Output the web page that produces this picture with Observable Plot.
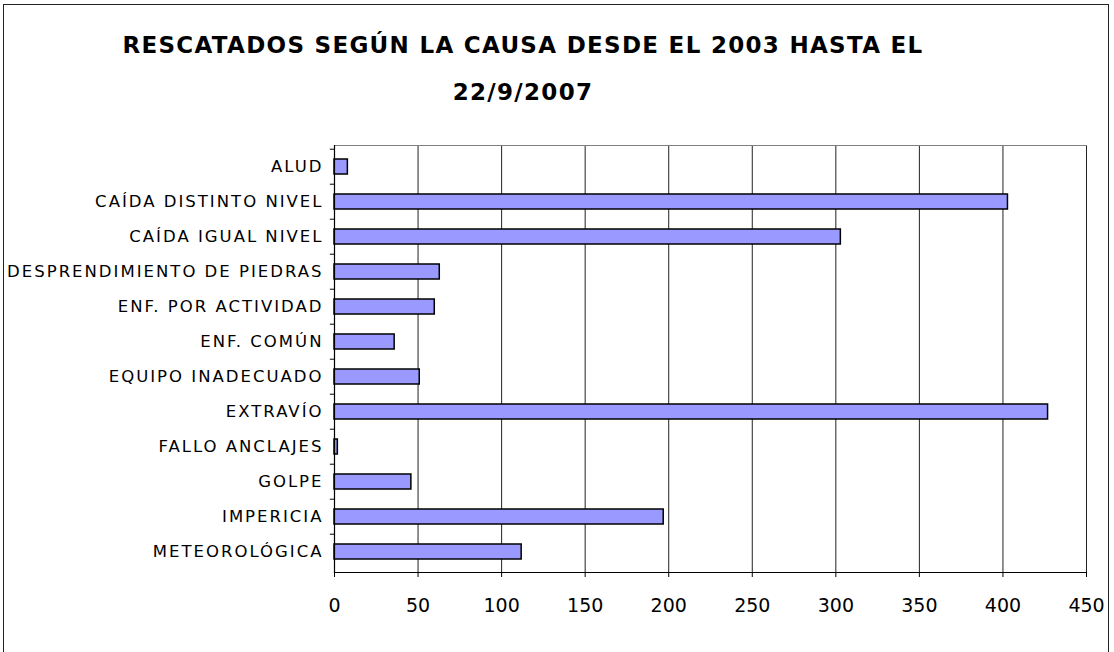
<!DOCTYPE html>
<html>
<head>
<meta charset="utf-8">
<script src="https://cdn.jsdelivr.net/npm/d3@7"></script>
<script src="https://cdn.jsdelivr.net/npm/@observablehq/plot@0.6"></script>
<style>
  html, body { margin: 0; padding: 0; background: #fff; }
  #wrap { position: relative; width: 1114px; height: 652px; overflow: hidden; background: #fff; }
  #border { position: absolute; left: 3px; top: 4px; width: 1106px; height: 700px; border: 1px solid #222; box-sizing: border-box; }
  .title { position: absolute; left: 0; width: 1046px; text-align: center; font-family: "DejaVu Sans", sans-serif; font-weight: bold; font-size: 23px; line-height: 23px; letter-spacing: 1.3px; color: #000; white-space: nowrap; }
  #chart { position: absolute; left: 0; top: 0; }
</style>
</head>
<body>
<div id="wrap">
  <div id="border"></div>
  <div id="chart"></div>
  <div class="title" id="t1" style="top:34px"></div>
  <div class="title" id="t2" style="top:81px"></div>
</div>
<script>
const titleLines = ["RESCATADOS SEGÚN LA CAUSA DESDE EL 2003 HASTA EL", "22/9/2007"];
const categories = ["ALUD", "CAÍDA DISTINTO NIVEL", "CAÍDA IGUAL NIVEL", "DESPRENDIMIENTO DE PIEDRAS", "ENF. POR ACTIVIDAD", "ENF. COMÚN", "EQUIPO INADECUADO", "EXTRAVÍO", "FALLO ANCLAJES", "GOLPE", "IMPERICIA", "METEOROLÓGICA"];
const values = [8, 403, 303, 63, 60, 36, 51, 427, 2, 46, 197, 112];
const xTicks = [0, 50, 100, 150, 200, 250, 300, 350, 400, 450];

document.getElementById("t1").textContent = titleLines[0];
document.getElementById("t2").textContent = titleLines[1];

const data = categories.map((c, i) => ({cat: c, value: values[i]}));

const W = 1114, H = 652, mT = 145, mB = 80, mL = 334, mR = 28;
const step = (H - mT - mB) / categories.length;

const chart = Plot.plot({
  width: W,
  height: H,
  marginTop: mT,
  marginBottom: mB,
  marginLeft: mL,
  marginRight: mR,
  style: {fontFamily: "DejaVu Sans, sans-serif", background: "transparent", color: "#000"},
  x: {domain: [0, 450], ticks: xTicks},
  y: {domain: categories, paddingInner: 0.58, paddingOuter: 0.29},
  marks: [
    Plot.gridX(xTicks, {stroke: "#222", strokeOpacity: 1, strokeWidth: 1}),
    Plot.frame({anchor: "top", stroke: "#808080"}),
    Plot.barX(data, {x: "value", y: "cat", fill: "#9999FF", stroke: "#000", strokeWidth: 1.5}),
    Plot.ruleX([0], {stroke: "#000", strokeWidth: 1.2}),
    Plot.frame({anchor: "bottom", stroke: "#000", strokeWidth: 1.2}),
    Plot.ruleY(categories, {y: d => d, x1: -2.5, x2: 0, dy: -step / 2, stroke: "#000"}),
    Plot.axisX(xTicks, {tickSize: 5, tickPadding: 21, fontSize: 19, label: null, stroke: "#000"}),
    Plot.axisY({tickSize: 0, tickPadding: 11, fontSize: 16.5, label: null})
  ]
});

d3.select(chart).selectAll('[aria-label="y-axis tick label"] text').attr("letter-spacing", "2px").attr("fill", "#000");
document.getElementById("chart").appendChild(chart);
</script>
</body>
</html>
